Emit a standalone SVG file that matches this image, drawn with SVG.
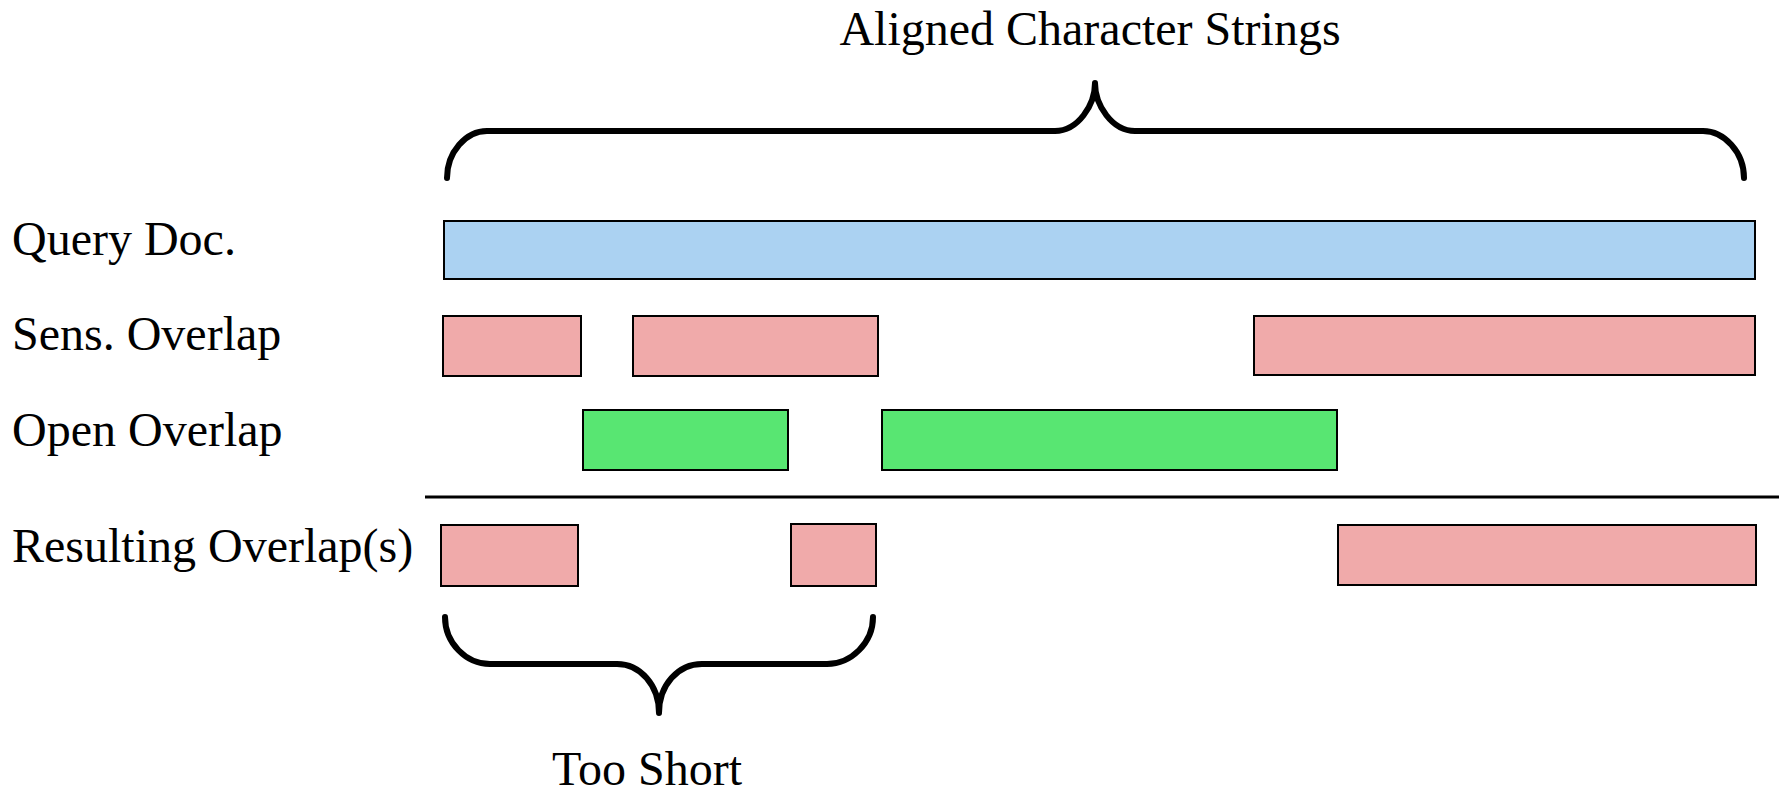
<svg xmlns="http://www.w3.org/2000/svg" width="1779" height="793" viewBox="0 0 1779 793">
<style>
text{font-family:"Liberation Serif","Times New Roman",serif;font-size:48px;fill:#000}
.q{fill:#abd2f2;stroke:#000;stroke-width:2}
.s{fill:#f0aaaa;stroke:#000;stroke-width:2}
.o{fill:#58e672;stroke:#000;stroke-width:2}
.brace{fill:none;stroke:#000;stroke-width:6;stroke-linecap:round;stroke-linejoin:round}
</style>
<rect width="1779" height="793" fill="#fff"/>
<g id="labels">
<text x="12" y="255">Query Doc.</text>
<text x="12" y="350">Sens. Overlap</text>
<text x="12" y="446">Open Overlap</text>
<text x="12" y="562">Resulting Overlap(s)</text>
</g>
<g id="title"><text x="1090" y="45" text-anchor="middle">Aligned Character Strings</text></g>
<g id="too-short"><text x="647" y="785" text-anchor="middle">Too Short</text></g>
<g id="query"><rect class="q" x="444" y="221" width="1311" height="58"/></g>
<g id="sens">
<rect class="s" x="443" y="316" width="138" height="60"/>
<rect class="s" x="633" y="316" width="245" height="60"/>
<rect class="s" x="1254" y="316" width="501" height="59"/>
</g>
<g id="open">
<rect class="o" x="583" y="410" width="205" height="60"/>
<rect class="o" x="882" y="410" width="455" height="60"/>
</g>
<g id="result">
<rect class="s" x="441" y="525" width="137" height="61"/>
<rect class="s" x="791" y="524" width="85" height="62"/>
<rect class="s" x="1338" y="525" width="418" height="60"/>
</g>
<g id="connectors">
<line x1="425" y1="497" x2="1779" y2="497" stroke="#000" stroke-width="3"/>
<path class="brace" d="M447,178 C447,152 466,131 487,131 L1055,131 C1078,131 1095,105 1095,83 M1095,83 C1095,105 1112,131 1135,131 L1703,131 C1724,131 1744,152 1744,178" stroke-linecap="butt"/>
<path class="brace" d="M445,617 C445,643 466,664 490,664 L617,664 C640,664 659,685 659,713 M659,713 C659,685 678,664 702,664 L827,664 C851,664 873,643 873,617" stroke-linecap="butt"/>
</g>
</svg>
